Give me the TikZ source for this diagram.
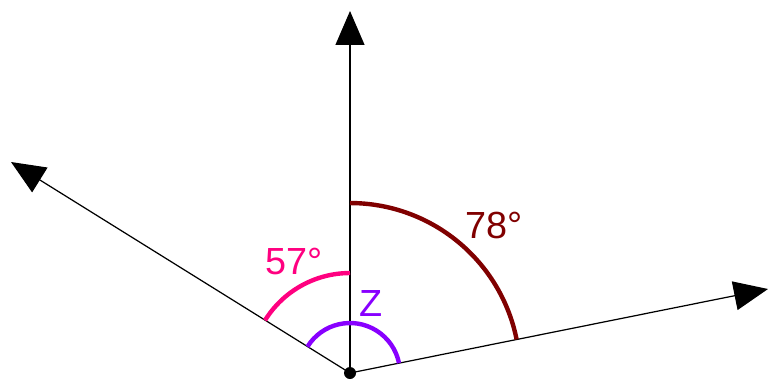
\documentclass[tikz,border=0pt]{standalone}
\usepackage{fontspec}
\setmainfont{Liberation Sans}
\usetikzlibrary{arrows.meta, calc}

\definecolor{arcmaroon}{RGB}{128,0,0}
\definecolor{arcpink}{RGB}{255,0,128}
\definecolor{arcviolet}{RGB}{136,0,255}

\begin{document}
\begin{tikzpicture}[x=0.02cm, y=0.02cm,
    ray/.style={line width=0.7pt, -{Triangle[length=0.68cm, width=0.58cm]}},
    anglearc/.style={line width=2.5pt},
    anglelabel/.style={font=\fontsize{21.5}{24}\selectfont, inner sep=0pt}]
  \useasboundingbox (0,0) rectangle (768,380);

  % Strahlen
  \coordinate (O) at (350,7);
  \coordinate (up) at (350,369);
  \coordinate (lft) at (11,218);
  \coordinate (rgt) at (768,91);
  \draw[ray] (O) -- (up);
  \draw[ray] (O) -- (lft);
  \draw[ray] (O) -- (rgt);

  % Winkelboegen
  \draw[anglearc, arcmaroon] ($(O)+(90:3.4cm)$) arc[start angle=90, end angle=11.4, radius=3.4cm];
  \draw[anglearc, arcpink] ($(O)+(90:2cm)$) arc[start angle=90, end angle=148.2, radius=2cm];
  \draw[anglearc, arcviolet] ($(O)+(148.2:1cm)$) arc[start angle=148.2, end angle=11.4, radius=1cm];

  \fill (O) circle[radius=0.12cm];

  % Beschriftungen
  \node[anglelabel, arcmaroon] (lblA) at (494,155) {78°};
  \node[anglelabel, arcpink] (lblB) at (294,119) {57°};
  \node[anglelabel, arcviolet] (lblZ) at (371,77) {Z};
\end{tikzpicture}
\end{document}
